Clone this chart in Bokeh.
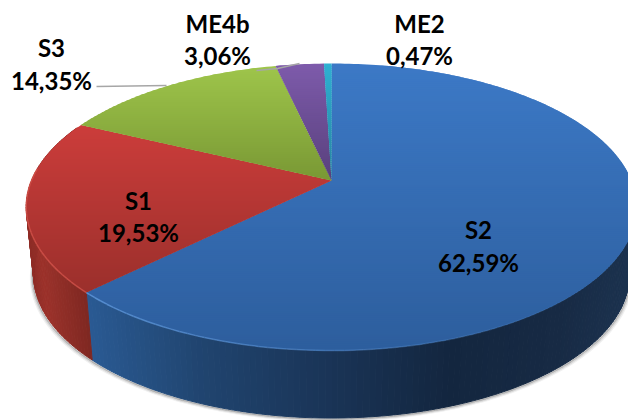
import numpy as np
from bokeh.plotting import figure
from bokeh.models import Range1d
from bokeh.core.properties import value
from bokeh.embed import file_html
from bokeh.resources import INLINE

categories = ["S2", "S1", "S3", "ME4b", "ME2"]
shares = [62.59, 19.53, 14.35, 3.06, 0.47]

# --- styling / layout only ---
W, H = 628, 420
CX, CY, A, B, K = 331.0, 180.0, 138.6, 300.0, 0.185
DEPTH, SHRINK = 67.5, 0.976
face_colors = {
    "S2": ((63, "#3C79C6"), (350, "#2D5E9D")),
    "S1": ((120, "#CD3D3B"), (295, "#9A2F2B")),
    "S3": ((63, "#9FC64B"), (180, "#799834")),
    "ME4b": ((63, "#7E5BAB"), (180, "#58407C")),
    "ME2": ((63, "#2FB0D2"), (180, "#25839E")),
}
wall_stops = {
    "S2": ([86, 200, 320, 450, 560, 640], ["#2A5A93", "#20446F", "#1A3558", "#13263F", "#172A44", "#1C3350"]),
    "S1": ([25, 40, 92], ["#8E2D27", "#9C322B", "#7A2620"]),
}
label_pos = {
    "S2": (478, 229, 262),
    "S1": (138, 200, 232),
    "S3": (51, 47, 80),
    "ME4b": (217, 23, 55),
    "ME2": (419, 23, 55),
}
leaders = [([96, 166], [86, 85]), ([256, 277, 299], [70, 68, 63])]
WALL_FROM, WALL_TO = 105, 294


def rim(theta):
    d = 1 + K * np.cos(theta)
    return CX + B * np.sin(theta) / d, CY - A * np.cos(theta) / d


def floor(theta):
    x, y = rim(theta)
    return CX + (x - CX) * SHRINK, y + DEPTH


def hex2rgb(h):
    return np.array([int(h[i:i + 2], 16) for i in (1, 3, 5)], float)


def to_hex(c):
    return "#%02x%02x%02x" % tuple(int(round(v)) for v in c)


def lerp_stops(v, xs, cs):
    rgb = np.array([hex2rgb(c) for c in cs])
    return to_hex([np.interp(v, xs, rgb[:, i]) for i in range(3)])


def clip(poly, y, keep_below):
    out = []
    n = len(poly)
    inside = (lambda p: p[1] >= y) if keep_below else (lambda p: p[1] <= y)
    for i in range(n):
        a, b = poly[i], poly[(i + 1) % n]
        if inside(a):
            out.append(a)
        if inside(a) != inside(b):
            t = (y - a[1]) / (b[1] - a[1])
            out.append((a[0] + t * (b[0] - a[0]), y))
    return out


total = sum(shares)
edges = np.cumsum([0.0] + shares) / total * 2 * np.pi
p = figure(width=W, height=H, x_range=Range1d(0, W), y_range=Range1d(H, 0),
           output_backend="svg", toolbar_location=None, min_border=0,
           outline_line_color=None, background_fill_color="white",
           border_fill_color="white")
p.axis.visible = False
p.grid.visible = False
p.styles = {"position": "absolute", "left": "0px", "top": "0px"}

# soft shadow beneath the wall
th = np.radians(np.arange(85, 296, 1.0))
fx, fy = floor(th)
for off, col, alpha in [(3.0, "#000000", 0.06), (2.0, "#000000", 0.14), (1.0, "#000000", 0.28)]:
    p.line(CX + (fx - CX) * (1 + off / 300), fy + off, line_color=col, line_alpha=alpha, line_width=1.5)

# outer wall
xs, ys, cols = [], [], []
for name, a0, a1 in zip(categories, edges[:-1], edges[1:]):
    if name not in wall_stops:
        continue
    lo = max(a0, np.radians(WALL_FROM))
    hi = min(a1, np.radians(WALL_TO))
    grid = np.arange(lo, hi, np.radians(1.0))
    grid = np.append(grid, hi)
    for t0, t1 in zip(grid[:-1], grid[1:]):
        x0, y0 = rim(t0); x1, y1 = rim(t1)
        x2, y2 = floor(t1); x3, y3 = floor(t0)
        xs.append([x0, x1, x2, x3]); ys.append([y0, y1, y2, y3])
        cols.append(lerp_stops((x0 + x1) / 2, *wall_stops[name]))
p.patches(xs, ys, fill_color=cols, line_color=cols, line_width=1, fill_alpha=1.0, line_alpha=1.0)

# top face, drawn as overlapping horizontal colour bands per slice
xs, ys, cols = [], [], []
BAND = 2.0
for name, a0, a1 in zip(categories, edges[:-1], edges[1:]):
    n = max(3, int(np.degrees(a1 - a0)))
    ang = np.linspace(a0, a1, n)
    rx, ry = rim(ang)
    poly = [(CX, CY)] + list(zip(rx, ry))
    (yt, ct), (yb, cb) = face_colors[name]
    ymin, ymax = min(q[1] for q in poly), max(q[1] for q in poly)
    for y in np.arange(ymin, ymax, BAND):
        piece = clip(clip(poly, y, True), y + BAND + 1.5, False)
        if len(piece) < 3:
            continue
        xs.append([q[0] for q in piece]); ys.append([q[1] for q in piece])
        cols.append(lerp_stops(y + BAND / 2, [yt, yb], [ct, cb]))
p.patches(xs, ys, fill_color=cols, line_color=None, fill_alpha=1.0)

# light front rim on the top face
seg_x, seg_y, seg_c, seg_a = [], [], [], []
for name, a0, a1, col in [("S2", np.radians(130), edges[1], "#5B93D6"), ("S1", edges[1], np.radians(275), "#D9574F")]:
    grid = np.arange(a0, a1, np.radians(1.5))
    grid = np.append(grid, a1)
    for i, (t0, t1) in enumerate(zip(grid[:-1], grid[1:])):
        x0, y0 = rim(t0); x1, y1 = rim(t1)
        seg_x.append([x0, x1]); seg_y.append([y0, y1]); seg_c.append(col)
        frac = (i + 1) / (len(grid) - 1)
        seg_a.append(0.9 * frac if name == "S2" else 0.7)
p.multi_line(seg_x, seg_y, line_color=seg_c, line_alpha=seg_a, line_width=1.5)

# leader lines
for lx, ly in leaders:
    p.line(lx, ly, line_color="#A6A6A6", line_width=1.5)

# labels
for name, v in zip(categories, shares):
    lx, y1, y2 = label_pos[name]
    pct = f"{v:.2f}".replace(".", ",") + "%"
    p.text([lx, lx], [y1, y2], text=[name, pct], text_font=value("Lato"), text_font_style="bold",
           text_font_size="24px", text_color="#000000", text_align="center", text_baseline="middle")

open("out.html", "w").write(file_html(p, INLINE))
